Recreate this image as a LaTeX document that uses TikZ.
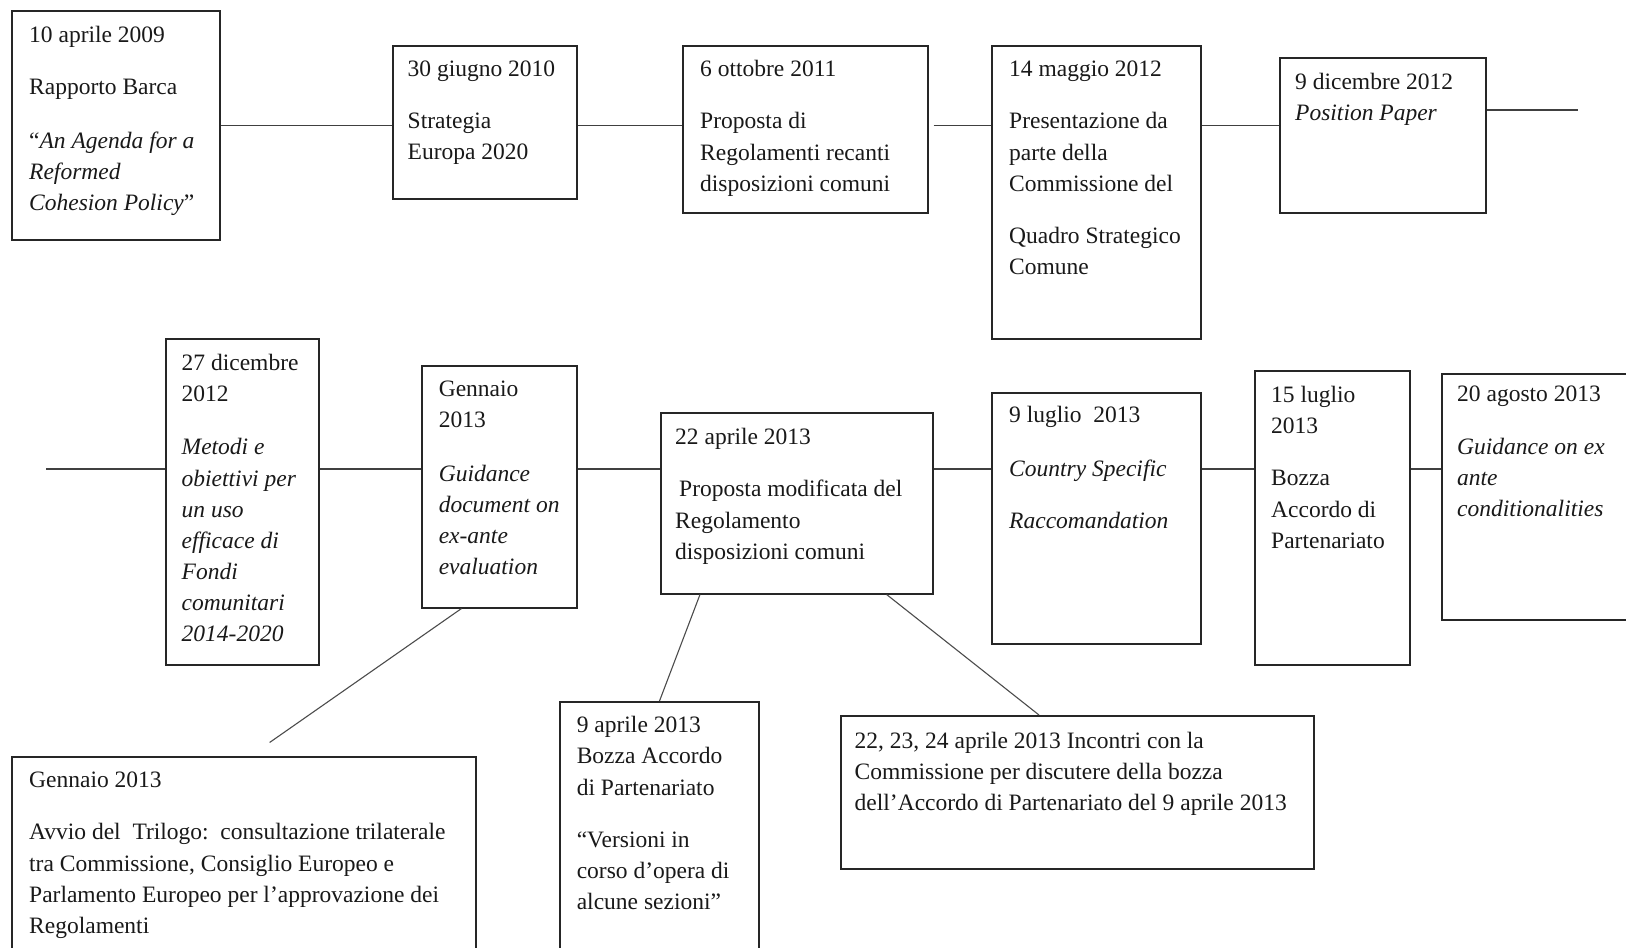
\documentclass[tikz,border=0pt]{standalone}
\usepackage{fontspec}
\setmainfont{Liberation Serif}
\usetikzlibrary{calc}
\tikzset{
 evbox/.style={draw=black!85, line width=1.5pt, fill=white, inner sep=0pt, anchor=north west},
 evtext/.style={anchor=north west, yshift=16pt, inner sep=0pt, align=left, font=\fontsize{23.5}{31}\selectfont, text=black!90},
 tline/.style={draw=black!75, line width=1.5pt},
 dline/.style={draw=black!70, line width=1.1pt},
}
\newcommand\evbox[5]{\node[evbox, minimum width=#4pt, minimum height=#5pt] (#1) at (#2,#3) {};}
\begin{document}
\begin{tikzpicture}[x=1pt,y=-1pt]
\clip (0,0) rectangle (1626,948);
\fill[white] (0,0) rectangle (1626,948);
% boxes
\evbox{b1}{11}{10}{208}{229}
\evbox{b2}{392}{45}{184}{153}
\evbox{b3}{682}{45}{245}{167}
\evbox{b4}{991}{45}{209}{293}
\evbox{b5}{1279}{57}{206}{155}
\evbox{b6}{165}{338}{153}{326}
\evbox{b7}{421}{365}{155}{242}
\evbox{b8}{660}{412}{272}{181}
\evbox{b9}{991}{392}{209}{251}
\evbox{b10}{1254}{370}{155}{294}
\evbox{b11}{1441}{373}{230}{246}
\evbox{b12}{11}{756}{464}{220}
\evbox{b13}{559}{701}{199}{270}
\evbox{b14}{840}{715}{473}{153}
% texts
\node[evtext] (t1) at (29,42) {10 aprile 2009\\[21pt]Rapporto Barca\\[23pt]“\textit{An Agenda for a}\\\textit{Reformed}\\\textit{Cohesion Policy}”};
\node[evtext] (t2) at (407.5,76.4) {30 giugno 2010\\[21pt]Strategia\\Europa 2020};
\node[evtext] (t3) at (700,76.4) {6 ottobre 2011\\[21pt]Proposta di\\[1pt]Regolamenti recanti\\disposizioni comuni};
\node[evtext] (t4) at (1009,76.4) {14 maggio 2012\\[21pt]Presentazione da\\[1pt]parte della\\Commissione del\\[21pt]Quadro Strategico\\Comune};
\node[evtext] (t5) at (1295,89) {9 dicembre 2012\\\textit{Position Paper}};
\node[evtext] (t6) at (181.5,370) {27 dicembre\\2012\\[22pt]\textit{Metodi e}\\[1pt]\textit{obiettivi per}\\\textit{un uso}\\\textit{efficace di}\\\textit{Fondi}\\\textit{comunitari}\\\textit{2014-2020}};
\node[evtext] (t7) at (438.6,397) {Gennaio\\2013\\[23pt]\textit{Guidance}\\\textit{document on}\\\textit{ex-ante}\\\textit{evaluation}};
\node[evtext] (t8) at (675,443.5) {22 aprile 2013\\[21pt]\hspace{4pt}Proposta modificata del\\[1pt]Regolamento\\disposizioni comuni};
\node[evtext] (t9) at (1009,422) {9 luglio\ \ 2013\\[23pt]\textit{Country Specific}\\[21pt]\textit{Raccomandation}};
\node[evtext] (t10) at (1271,402) {15 luglio\\2013\\[21pt]Bozza\\[1pt]Accordo di\\Partenariato};
\node[evtext] (t11) at (1457,402) {20 agosto 2013\\[22pt]\textit{Guidance on ex}\\\textit{ante}\\\textit{conditionalities}};
\node[evtext] (t12) at (29,788) {Gennaio 2013\\[21pt]Avvio del\ \ Trilogo:\ \ consultazione trilaterale\\[1pt]tra Commissione, Consiglio Europeo e\\Parlamento Europeo per l’approvazione dei\\Regolamenti};
\node[evtext] (t13) at (576.6,732) {9 aprile 2013\\Bozza Accordo\\[1pt]di Partenariato\\[21pt]“Versioni in\\corso d’opera di\\alcune sezioni”};
\node[evtext] (t14) at (854.5,747.5) {22, 23, 24 aprile 2013 Incontri con la\\Commissione per discutere della bozza\\dell’Accordo di Partenariato del 9 aprile 2013};
% row 1 connectors
\coordinate (L1) at (0,125.5);
\draw[tline] (b1.east |- L1) -- (b2.west |- L1);
\draw[tline] (b2.east |- L1) -- (b3.west |- L1);
\draw[tline] ($(b3.east |- L1)+(5,0)$) -- (b4.west |- L1);
\draw[tline] (b4.east |- L1) -- (b5.west |- L1);
\coordinate (E1) at (1578,110);
\draw[tline] (b5.east |- E1) -- (E1);
% row 2 connectors
\coordinate (L2) at (46,469);
\draw[tline] (L2) -- (b6.west |- L2);
\draw[tline] (b6.east |- L2) -- (b7.west |- L2);
\draw[tline] (b7.east |- L2) -- (b8.west |- L2);
\draw[tline] (b8.east |- L2) -- (b9.west |- L2);
\draw[tline] (b9.east |- L2) -- (b10.west |- L2);
\draw[tline] (b10.east |- L2) -- (b11.west |- L2);
% diagonals
\coordinate (F7) at (269.6,742.5);
\draw[dline] ($(b7.south west)+(40.5,0)$) -- (F7);
\draw[dline] ($(b8.south west)+(40,0)$) -- ($(b13.north west)+(100.5,0)$);
\draw[dline] ($(b8.south west)+(226.6,0)$) -- ($(b14.north west)+(199,0)$);
\end{tikzpicture}
\end{document}
